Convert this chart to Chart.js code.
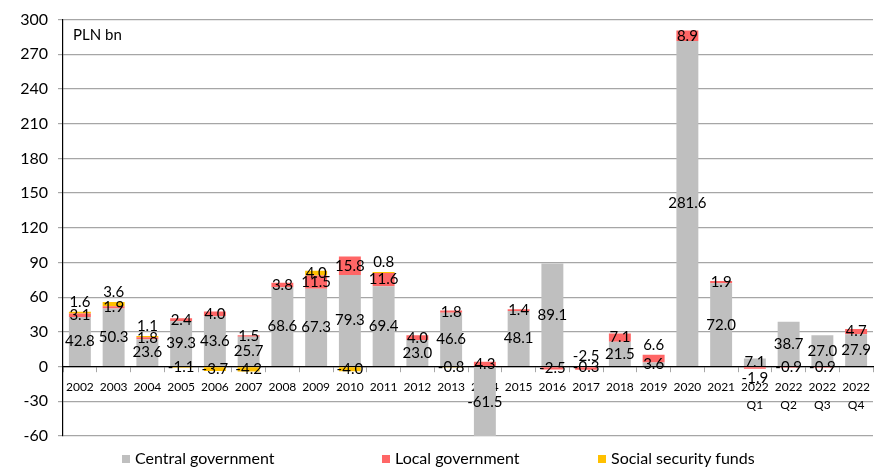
<!DOCTYPE html>
<html><head><meta charset="utf-8">
<script src="https://cdn.jsdelivr.net/npm/chart.js@4"></script>
<style>
html,body{margin:0;padding:0;background:#fff;}
#wrap{position:relative;width:879px;height:468px;overflow:hidden;}
canvas{position:absolute;left:0;top:0;}
.lg{position:absolute;top:449px;height:17px;font-family:Lato,sans-serif;font-size:16px;line-height:17px;color:#000;white-space:nowrap;}
.lg i{display:inline-block;width:8px;height:8px;margin-right:5px;vertical-align:1px;}
</style></head>
<body><div id="wrap"><canvas id="c" width="879" height="468"></canvas></div>
<script>
const categories = ['2002','2003','2004','2005','2006','2007','2008','2009','2010','2011','2012','2013','2014','2015','2016','2017','2018','2019','2020','2021',['2022','Q1'],['2022','Q2'],['2022','Q3'],['2022','Q4']];
const centralGov = [42.8,50.3,23.6,39.3,43.6,25.7,68.6,67.3,79.3,69.4,23.0,46.6,-61.5,48.1,89.1,-0.3,21.5,3.6,281.6,72.0,7.1,38.7,27.0,27.9];
const localGov = [3.1,1.9,1.8,2.4,4.0,1.5,3.8,11.5,15.8,11.6,4.0,1.8,4.3,1.4,-2.5,-2.5,7.1,6.6,8.9,1.9,-1.9,-0.9,-0.9,4.7];
const socialFunds = [1.6,3.6,1.1,-1.1,-3.7,-4.2,null,4.0,-4.0,0.8,null,-0.8,null,null,null,null,null,null,null,null,null,null,null,null];
const seriesNames = ['Central government','Local government','Social security funds'];
const seriesColors = ['#BFBFBF','#FF6666','#FFC000'];
const yMin = -60, yMax = 300, yStep = 30;
const unitLabel = 'PLN bn';
const legendLeft = [122,382,598];

const labelPlugin = {
  id:'stackLabels',
  afterDatasetsDraw(chart){
    const ctx = chart.ctx, ys = chart.scales.y, zero = ys.getPixelForValue(0);
    ctx.save();
    ctx.font = '15px Lato'; ctx.fillStyle = '#000'; ctx.textAlign = 'center'; ctx.textBaseline = 'middle';
    const n = chart.data.labels.length;
    for (let j=0;j<n;j++){
      let top = zero, bottom = zero; const placed = [];
      chart.data.datasets.forEach((ds,i)=>{
        const v=ds.data[j]; if(v==null) return;
        const el = chart.getDatasetMeta(i).data[j];
        if(v>0) top=Math.min(top, el.y); else bottom=Math.max(bottom, el.y);
      });
      chart.data.datasets.forEach((ds,i)=>{
        const v = ds.data[j]; if (v==null) return;
        const el = chart.getDatasetMeta(i).data[j];
        let cy = (el.y + el.base)/2;
        if (placed.some(p=>Math.abs(p-cy)<8)) {
          cy = (v<0 && top<zero) ? bottom + 9 : top - 10;
        }
        placed.push(cy);
        ctx.fillText(v.toFixed(1), el.x, cy);
      });
    }
    ctx.textAlign='left';
    ctx.fillText(unitLabel, chart.chartArea.left+10, chart.chartArea.top+16);
    ctx.restore();
  }
};

new Chart(document.getElementById('c'), {
  type:'bar',
  data:{ labels:categories, datasets:[
    {label:seriesNames[0], data:centralGov, backgroundColor:seriesColors[0]},
    {label:seriesNames[1], data:localGov, backgroundColor:seriesColors[1]},
    {label:seriesNames[2], data:socialFunds, backgroundColor:seriesColors[2]}
  ]},
  options:{
    responsive:false, animation:false, devicePixelRatio:1,
    layout:{padding:{left:0,right:6,top:17,bottom:32}},
    plugins:{legend:{display:false}, tooltip:{enabled:false}},
    datasets:{bar:{barPercentage:0.65, categoryPercentage:1}},
    scales:{
      x:{stacked:true, position:{y:0},
         grid:{drawOnChartArea:false, drawTicks:true, tickLength:5, color:'#A6A6A6', offset:true},
         border:{color:'#000', width:1.2},
         ticks:{font:{family:'Lato', size:12, lineHeight:1.5}, color:'#000', padding:7, maxRotation:0, autoSkip:false}},
      y:{stacked:true, min:yMin, max:yMax,
         ticks:{stepSize:yStep, font:{family:'Lato', size:16}, color:'#000', padding:10},
         grid:{color:'#A6A6A6', tickLength:5, lineWidth:1.2},
         border:{color:'#000', width:1.2},
         afterFit(s){ s.width = 63; }}
    }
  },
  plugins:[labelPlugin]
});

const wrap = document.getElementById('wrap');
seriesNames.forEach((name,i)=>{
  const d = document.createElement('div'); d.className='lg'; d.style.left = legendLeft[i]+'px';
  const sw = document.createElement('i'); sw.style.background = seriesColors[i];
  d.appendChild(sw); d.appendChild(document.createTextNode(name)); wrap.appendChild(d);
});
</script>
</body></html>
